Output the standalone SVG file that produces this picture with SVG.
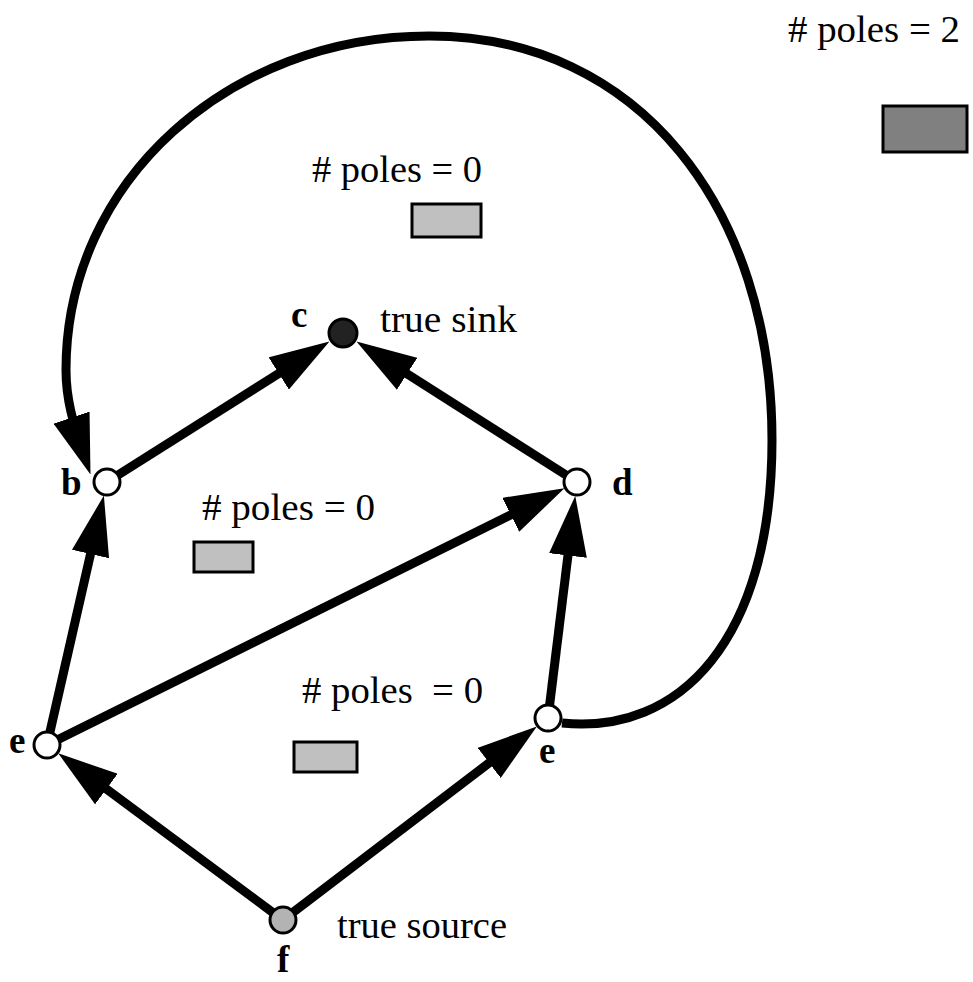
<svg xmlns="http://www.w3.org/2000/svg" width="973" height="982" viewBox="0 0 973 982">
  <style>
    .edge { fill: none; stroke: #000; stroke-width: 9; marker-end: url(#arrow); }
    .node { stroke: #000; stroke-width: 3; }
    .open { fill: #fff; }
    .lbl { font-family: "Liberation Serif", "Times New Roman", serif; font-size: 37px; font-weight: bold; fill: #000; }
    .txt { font-family: "Liberation Serif", "Times New Roman", serif; font-size: 37px; fill: #000; }
    .pole { stroke: #000; stroke-width: 3; }
  </style>
  <defs>
    <marker id="arrow" markerUnits="userSpaceOnUse" markerWidth="60" markerHeight="38" refX="30" refY="19" orient="auto" viewBox="0 0 60 38">
      <path d="M0,0 L60,19 L0,38 z" fill="#000"/>
    </marker>
  </defs>
  <rect width="973" height="982" fill="#fff"/>

  <g id="connectors">
    <line class="edge" x1="118" y1="475" x2="304.1" y2="357.5"/>
    <line class="edge" x1="566" y1="475" x2="381.8" y2="357.7"/>
    <line class="edge" x1="49.9" y1="732.3" x2="97.2" y2="524.8"/>
    <line class="edge" x1="58.6" y1="739.2" x2="537.6" y2="501.5"/>
    <line class="edge" x1="272.6" y1="912.3" x2="82.3" y2="771.2"/>
    <line class="edge" x1="293.3" y1="912.1" x2="513.0" y2="744.7"/>
    <line class="edge" x1="549.6" y1="705.1" x2="571.6" y2="525.7"/>
    <path class="edge" d="M562,723 C680,735 772,640 772,440 C772,210 640,36 429,36 C230,36 66,180 66,370 C66,400 74,425 81,446"/>
  </g>

  <g id="node-c">
    <circle class="node" cx="343" cy="333" r="14" fill="#222"/>
    <text class="lbl" x="291" y="327">c</text>
    <text class="txt" x="380" y="332" textLength="137" lengthAdjust="spacingAndGlyphs">true sink</text>
  </g>
  <g id="node-b">
    <circle class="node open" cx="107" cy="482" r="13"/>
    <text class="lbl" x="61" y="495">b</text>
  </g>
  <g id="node-d">
    <circle class="node open" cx="577" cy="482" r="13"/>
    <text class="lbl" x="612" y="495">d</text>
  </g>
  <g id="node-e-left">
    <circle class="node open" cx="47" cy="745" r="13"/>
    <text class="lbl" x="9" y="753">e</text>
  </g>
  <g id="node-e-right">
    <circle class="node open" cx="548" cy="718" r="13"/>
    <text class="lbl" x="539" y="763">e</text>
  </g>
  <g id="node-f">
    <circle class="node" cx="283" cy="920" r="13" fill="#b3b3b3"/>
    <text class="lbl" x="277" y="972">f</text>
    <text class="txt" x="337" y="938" textLength="170" lengthAdjust="spacingAndGlyphs">true source</text>
  </g>

  <g id="poles-outer">
    <text class="txt" x="788" y="42" textLength="172" lengthAdjust="spacingAndGlyphs"># poles = 2</text>
    <rect class="pole" x="883" y="106" width="84" height="46" fill="#808080"/>
  </g>
  <g id="poles-top">
    <text class="txt" x="312" y="182" textLength="170" lengthAdjust="spacingAndGlyphs"># poles = 0</text>
    <rect class="pole" x="412" y="204" width="69" height="33" fill="#c0c0c0"/>
  </g>
  <g id="poles-middle">
    <text class="txt" x="202" y="520" textLength="173" lengthAdjust="spacingAndGlyphs"># poles = 0</text>
    <rect class="pole" x="194" y="542" width="59" height="30" fill="#c0c0c0"/>
  </g>
  <g id="poles-bottom">
    <text class="txt" x="302" y="703" textLength="181" lengthAdjust="spacingAndGlyphs" xml:space="preserve"># poles  = 0</text>
    <rect class="pole" x="294" y="742" width="63" height="30" fill="#c0c0c0"/>
  </g>
</svg>
